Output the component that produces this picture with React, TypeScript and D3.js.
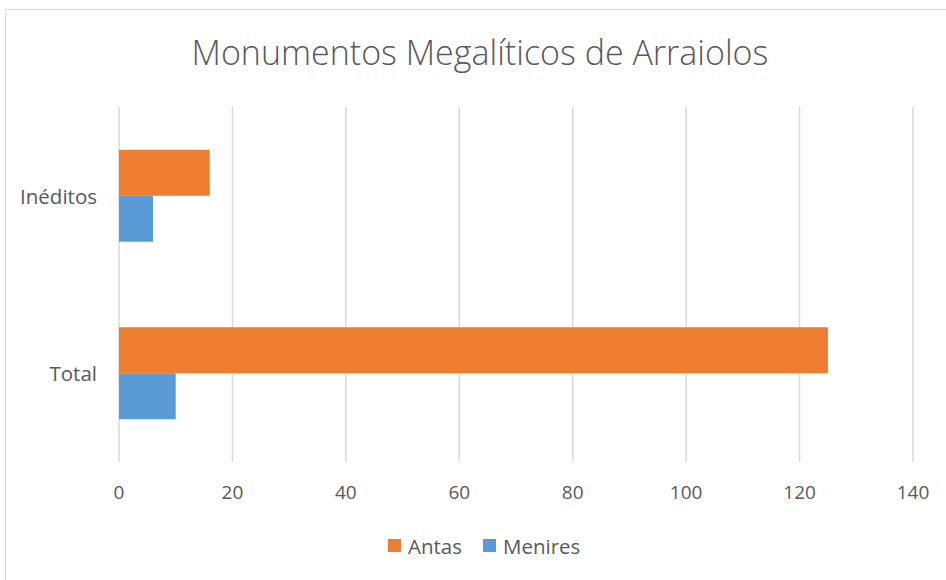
import { useMemo } from 'react'
import * as d3 from 'd3'

const categories = ['Inéditos', 'Total']
const seriesNames = ['Antas', 'Menires']
const antas = [16, 125]
const menires = [6, 10]
const xTicks = [0, 20, 40, 60, 80, 100, 120, 140]
const colors = ['#ED7D31', '#5B9BD5']

const W = 946
const H = 580
const plot = { left: 119, right: 913, top: 107, bottom: 462 }
const font = '"Open Sans", sans-serif'
const textColor = '#595959'
const legendX = [388, 483]

export default function App() {
    const xScale = useMemo(
        () => d3.scaleLinear().domain([0, 140]).range([plot.left, plot.right]),
        []
    )
    const yScale = useMemo(
        () =>
            d3
                .scaleBand()
                .domain(categories)
                .range([plot.top, plot.bottom])
                .paddingInner(0.4817)
                .paddingOuter(0.24085),
        []
    )
    const innerScale = useMemo(
        () => d3.scaleBand().domain(seriesNames).range([0, yScale.bandwidth()]),
        [yScale]
    )
    const values = [antas, menires]

    return (
        <svg
            width={W}
            height={H}
            style={{ position: 'absolute', left: 0, top: 0 }}
            fontFamily={font}
        >
            <rect x={0} y={0} width={W} height={H} fill="white" />
            <rect
                x={5.5}
                y={9.5}
                width={W + 20}
                height={H + 20}
                fill="none"
                stroke="#d9d9d9"
            />
            <text
                x={480}
                y={52}
                textAnchor="middle"
                dominantBaseline="central"
                fontSize={34}
                fontWeight={300}
                fill={textColor}
            >
                Monumentos Megalíticos de Arraiolos
            </text>

            {xTicks.map((t) => (
                <g key={t}>
                    <line
                        x1={xScale(t)}
                        x2={xScale(t)}
                        y1={plot.top}
                        y2={plot.bottom}
                        stroke="#d9d9d9"
                        strokeWidth={1.5}
                    />
                    <text
                        x={xScale(t)}
                        y={492}
                        textAnchor="middle"
                        dominantBaseline="central"
                        fontSize={19}
                        fill={textColor}
                    >
                        {t}
                    </text>
                </g>
            ))}

            {categories.map((c, i) => (
                <g key={c}>
                    {seriesNames.map((s, j) => (
                        <rect
                            key={s}
                            x={xScale(0)}
                            y={(yScale(c) ?? 0) + (innerScale(s) ?? 0)}
                            width={xScale(values[j][i]) - xScale(0)}
                            height={innerScale.bandwidth()}
                            fill={colors[j]}
                        />
                    ))}
                    <text
                        x={97}
                        y={(yScale(c) ?? 0) + yScale.bandwidth() / 2}
                        textAnchor="end"
                        dominantBaseline="central"
                        fontSize={20.5}
                        fill={textColor}
                    >
                        {c}
                    </text>
                </g>
            ))}

            {seriesNames.map((s, j) => (
                <g key={s} transform={`translate(${legendX[j]},546)`}>
                    <rect x={0} y={-7} width={13} height={13} fill={colors[j]} />
                    <text
                        x={20}
                        y={0}
                        dominantBaseline="central"
                        fontSize={20.5}
                        fill={textColor}
                    >
                        {s}
                    </text>
                </g>
            ))}
        </svg>
    )
}
